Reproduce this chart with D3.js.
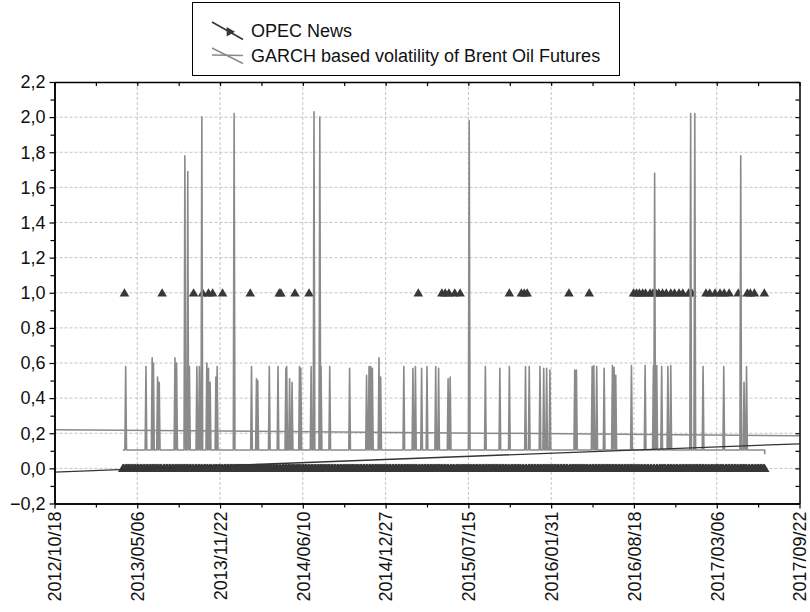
<!DOCTYPE html>
<html><head><meta charset="utf-8">
<script src="https://cdn.jsdelivr.net/npm/d3@7"></script>
<style>
body{margin:0;background:#fff}
svg text{font-family:"Liberation Sans",Arial,sans-serif;fill:#111}
</style>
</head><body>
<svg id="chart" width="810" height="612"></svg>
<script>
// ---------------- DATA ----------------
const xTickLabels = ["2012/10/18","2013/05/06","2013/11/22","2014/06/10","2014/12/27",
  "2015/07/15","2016/01/31","2016/08/18","2017/03/06","2017/09/22"];
const yTickValues = [-0.2,0,0.2,0.4,0.6,0.8,1.0,1.2,1.4,1.6,1.8,2.0,2.2];

// OPEC News: 1 on these dates, 0 on every other trading day of the observation window
const obsStart = "2013-04-01";
const obsEnd = "2017-06-30";
const newsDates = ["2013-04-05","2013-07-05","2013-09-19","2013-10-11","2013-10-25","2013-11-04",
  "2013-11-28","2014-02-03","2014-04-14","2014-04-18","2014-05-22","2014-06-25",
  "2015-03-16","2015-05-12","2015-05-20","2015-05-29","2015-06-12","2015-06-25",
  "2015-10-22","2015-11-20","2015-11-27","2015-12-04","2016-03-14","2016-05-02",
  "2016-08-17","2016-08-24","2016-08-31","2016-09-08","2016-09-15","2016-09-26",
  "2016-10-03","2016-10-10","2016-10-17","2016-10-26","2016-11-04","2016-11-15",
  "2016-11-24","2016-12-05","2016-12-14","2016-12-28","2017-01-05",
  "2017-02-08","2017-02-17","2017-03-02","2017-03-14","2017-03-24","2017-04-05",
  "2017-04-27","2017-05-19","2017-05-26","2017-06-05","2017-06-29"];
const newsValue = 1;
const noNewsValue = 0;

// GARCH volatility: resting level and spike peaks
const garchBase = 0.105;
const garchLast = 0.08;
const spikeDates = ["2013-04-08","2013-05-27","2013-06-11","2013-06-14","2013-06-24","2013-06-28",
  "2013-08-05","2013-08-09","2013-08-29","2013-09-05","2013-09-09","2013-09-27","2013-10-03",
  "2013-10-09","2013-10-21","2013-10-25","2013-10-29","2013-11-12","2013-11-15","2013-12-26",
  "2014-02-06","2014-02-18","2014-02-21","2014-03-21","2014-04-11","2014-04-30","2014-05-02",
  "2014-05-09","2014-05-15","2014-06-02","2014-06-05","2014-06-30","2014-07-07","2014-07-21",
  "2014-07-24","2014-08-14","2014-10-01","2014-11-11","2014-11-17","2014-11-21","2014-11-25",
  "2014-12-11","2014-12-15","2015-02-09","2015-03-03","2015-03-09","2015-03-24","2015-04-06",
  "2015-04-27","2015-05-04","2015-05-27","2015-06-01","2015-07-17","2015-08-25","2015-09-29",
  "2015-10-22","2015-11-30","2015-12-09","2016-01-04","2016-01-13","2016-01-20","2016-01-28",
  "2016-03-28","2016-04-01","2016-05-09","2016-05-13","2016-05-20","2016-06-07","2016-06-27",
  "2016-07-01","2016-07-05","2016-08-12","2016-09-14","2016-10-04","2016-10-07","2016-10-12",
  "2016-10-24","2016-11-08","2016-11-15","2017-01-02","2017-01-12","2017-02-01","2017-03-23",
  "2017-05-03","2017-05-11","2017-05-17"];
const spikePeaks = [0.58,0.58,0.63,0.60,0.52,0.49,
  0.63,0.60,1.78,1.69,0.58,0.58,0.58,
  2.00,0.60,0.57,0.49,0.52,0.58,2.02,
  0.58,0.51,0.50,0.58,0.58,0.57,0.58,
  0.51,0.49,0.58,0.57,0.58,2.03,2.00,
  0.58,0.58,0.57,0.53,0.58,0.58,0.57,
  0.63,0.52,0.58,0.57,0.58,0.57,0.58,
  0.58,0.57,0.51,0.52,1.98,0.58,0.57,
  0.58,0.58,0.58,0.58,0.57,0.57,0.56,
  0.56,0.56,0.58,0.585,0.58,0.57,0.585,
  0.575,0.53,0.585,0.585,0.585,1.68,0.585,
  0.58,0.58,0.585,2.02,2.02,0.58,0.58,
  1.78,0.49,0.58];

// Linear fits (values at the two ends of the x axis)
const fitDates = ["2012-10-18","2017-09-22"];
const opecFit = [-0.021, 0.14];
const garchFit = [0.22, 0.186];

// ---------------- CHART ----------------
const parse = d3.timeParse("%Y-%m-%d");
const parseTick = d3.timeParse("%Y/%m/%d");
const svg = d3.select("#chart");
const L = 54.5, R = 799.5, T = 82, B = 503.5;

const xTicks = xTickLabels.map(parseTick);
const x = d3.scaleTime().domain([xTicks[0], xTicks[xTicks.length-1]]).range([L, R]);
const y = d3.scaleLinear().domain([-0.2, 2.2]).range([B, T]);

const fmtY = v => d3.format(".1f")(v).replace(".", ",").replace("-", "\u2212");

const minorX = d3.pairs(xTicks).map(([a,b]) => new Date((+a + +b)/2));
const minorY = d3.pairs(yTickValues).map(([a,b]) => (a+b)/2);

// grid
const grid = svg.append("g").attr("stroke","#c4c4c4").attr("stroke-dasharray","3,2").attr("stroke-width",1);
grid.selectAll(".gx").data(xTicks.slice(1,-1)).join("line")
  .attr("x1", d => x(d)).attr("x2", d => x(d)).attr("y1", T).attr("y2", B);
grid.selectAll(".gy").data(yTickValues.slice(1,-1)).join("line")
  .attr("x1", L).attr("x2", R).attr("y1", d => y(d)).attr("y2", d => y(d));

// OPEC markers
const newsSet = new Set(newsDates);
const fmtD = d3.timeFormat("%Y-%m-%d");
const tradingDays = d3.timeDay.range(parse(obsStart), d3.timeDay.offset(parse(obsEnd),1))
  .filter(d => d.getDay() !== 0 && d.getDay() !== 6 && !newsSet.has(fmtD(d)));
const opecPoints = tradingDays.map(d => ({d, v: noNewsValue}))
  .concat(newsDates.map(s => ({d: parse(s), v: newsValue})));
const tri = "M0,-4.6L4.8,3.7L-4.8,3.7Z";
svg.append("g").attr("fill","#383838").selectAll("path").data(opecPoints).join("path")
  .attr("d", tri).attr("transform", p => `translate(${x(p.d)},${y(p.v)})`);

// GARCH line
const gPts = [[parse(obsStart), garchBase]];
spikeDates.forEach((s, i) => {
  const d = parse(s);
  gPts.push([d3.timeDay.offset(d,-2), garchBase], [d, spikePeaks[i]], [d3.timeDay.offset(d,2), garchBase]);
});
gPts.push([parse(obsEnd), garchBase], [parse(obsEnd), garchLast]);
const line = d3.line().x(p => x(p[0])).y(p => y(p[1]));
svg.append("path").attr("d", line(gPts)).attr("fill","none")
  .attr("stroke","#8a8a8a").attr("stroke-width",1.6).attr("stroke-linejoin","round");

// fits
const fd = fitDates.map(parse);
svg.append("path").attr("d", line(fd.map((d,i)=>[d, garchFit[i]])))
  .attr("stroke","#8a8a8a").attr("stroke-width",1.5).attr("fill","none");
svg.append("path").attr("d", line(fd.map((d,i)=>[d, opecFit[i]])))
  .attr("stroke","#333").attr("stroke-width",1.3).attr("fill","none");

// axes
const fs = 18;
const axB = svg.append("g").attr("transform",`translate(0,${B})`)
  .call(d3.axisBottom(x).tickValues(xTicks).tickSize(5).tickSizeOuter(0).tickFormat((d,i)=>xTickLabels[i]));
axB.selectAll("text").attr("transform","rotate(-90)").attr("text-anchor","end")
  .attr("x",-8).attr("y",0).attr("dy","0.35em").style("font-size",fs+"px");
svg.append("g").attr("transform",`translate(0,${B})`)
  .call(d3.axisBottom(x).tickValues(minorX).tickSize(4).tickSizeOuter(0).tickFormat(""));
const axL = svg.append("g").attr("transform",`translate(${L},0)`)
  .call(d3.axisLeft(y).tickValues(yTickValues).tickSize(5).tickSizeOuter(0).tickFormat(fmtY));
axL.selectAll("text").style("font-size",fs+"px").attr("x",-9);
svg.append("g").attr("transform",`translate(${L},0)`)
  .call(d3.axisLeft(y).tickValues(minorY).tickSize(4).tickSizeOuter(0).tickFormat(""));
svg.append("g").attr("transform",`translate(0,${T})`)
  .call(d3.axisTop(x).tickValues(xTicks.concat(minorX)).tickSize(-4).tickSizeOuter(0).tickFormat(""));
svg.append("g").attr("transform",`translate(${R},0)`)
  .call(d3.axisRight(y).tickValues(yTickValues.concat(minorY)).tickSize(-4).tickSizeOuter(0).tickFormat(""));
svg.selectAll(".domain").attr("stroke","#000").attr("stroke-width",1.5);
svg.selectAll(".tick line").attr("stroke","#000").attr("stroke-width",1.2);

// legend
const lg = svg.append("g");
lg.append("rect").attr("x",192.5).attr("y",2.5).attr("width",427).attr("height",73)
  .attr("fill","#fff").attr("stroke","#000").attr("stroke-width",1);
lg.append("line").attr("x1",212).attr("y1",22).attr("x2",243).attr("y2",39.5)
  .attr("stroke","#333").attr("stroke-width",1.5);
lg.append("path").attr("d",tri).attr("fill","#383838").attr("transform","translate(229,31) rotate(-30)");
lg.append("text").attr("x",251).attr("y",37).style("font-size","18px").text("OPEC News");
lg.append("line").attr("x1",212).attr("y1",55).attr("x2",243).attr("y2",55.5)
  .attr("stroke","#8a8a8a").attr("stroke-width",1.5);
lg.append("line").attr("x1",212).attr("y1",48).attr("x2",243).attr("y2",63.5)
  .attr("stroke","#8a8a8a").attr("stroke-width",1.5);
lg.append("text").attr("x",251).attr("y",62).style("font-size","18px")
  .text("GARCH based volatility of Brent Oil Futures");
</script>
</body></html>
